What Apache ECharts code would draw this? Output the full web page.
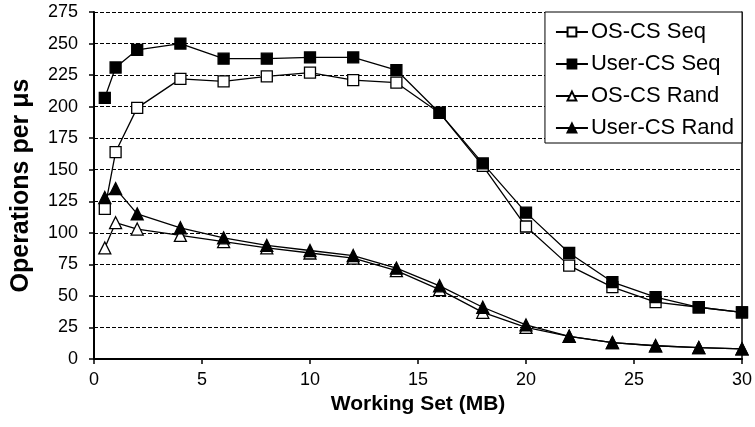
<!DOCTYPE html>
<html>
<head>
<meta charset="utf-8">
<script src="https://cdn.jsdelivr.net/npm/echarts@6/dist/echarts.min.js"></script>
<style>
    html, body { margin: 0; padding: 0; background: #fff; }
    #chart { width: 755px; height: 427px; }
</style>
</head>
<body>
<div id="chart"></div>
<script>
// working set sizes (MB)
const workingSet = [0.5, 1, 2, 4, 6, 8, 10, 12, 14, 16, 18, 20, 22, 24, 26, 28, 30];

const osCsSeq   = [119, 164, 199, 222, 220, 224, 227, 221, 219, 195, 153, 105, 74, 57, 45, 41, 37];
const userCsSeq = [207, 231, 245, 250, 238, 238, 239, 239, 229, 195, 155, 116, 84, 61, 49, 41, 37];
const osCsRand  = [88, 108, 103, 98, 93, 88, 84, 80, 70, 55, 37, 25, 18, 13, 10.5, 9, 8];
const userCsRand = [128, 135, 115, 104, 96, 90, 86, 82, 72, 58, 41, 27, 18, 13, 10.5, 9, 8];

const seriesNames = ['OS-CS Seq', 'User-CS Seq', 'OS-CS Rand', 'User-CS Rand'];
const yTicks = [0, 25, 50, 75, 100, 125, 150, 175, 200, 225, 250, 275];
const xTicks = [0, 5, 10, 15, 20, 25, 30];

const font = 'Liberation Sans, Arial, sans-serif';

function toPairs(values) {
    return workingSet.map((x, i) => [x, values[i]]);
}

function makeSeries(name, values, symbol, filled, size) {
    return {
        name: name,
        type: 'line',
        data: toPairs(values),
        symbol: symbol,
        symbolSize: size,
        showAllSymbol: true,
        lineStyle: { color: '#000', width: 1.3 },
        itemStyle: {
            color: filled ? '#000' : '#fff',
            borderColor: '#000',
            borderWidth: 1.3
        },
        emphasis: { disabled: true },
        z: 3
    };
}

const myChart = echarts.init(document.getElementById('chart'), null, { renderer: 'canvas' });
myChart.setOption({
    animation: false,
    backgroundColor: '#fff',
    grid: {
        left: 94,
        right: 13,
        top: 12,
        bottom: 68
    },
    legend: {
        orient: 'vertical',
        right: 13,
        top: 12,
        data: seriesNames,
        backgroundColor: '#fff',
        borderColor: '#000',
        borderWidth: 1,
        padding: [9, 8, 4, 10],
        itemGap: 10,
        itemWidth: 32,
        itemHeight: 11,
        textStyle: { fontFamily: font, fontSize: 22, color: '#000', padding: [0, 0, 0, -2] }
    },
    xAxis: {
        type: 'value',
        min: xTicks[0],
        max: xTicks[xTicks.length - 1],
        interval: 5,
        name: 'Working Set (MB)',
        nameLocation: 'middle',
        nameGap: 34,
        nameTextStyle: { fontFamily: font, fontSize: 21, fontWeight: 'bold', color: '#000' },
        axisLine: { lineStyle: { color: '#000', width: 2 } },
        axisTick: { show: true, inside: false, length: 5, lineStyle: { color: '#000', width: 1.5 } },
        axisLabel: { fontFamily: font, fontSize: 18, color: '#000', margin: 12 },
        splitLine: { show: false }
    },
    yAxis: [{
        type: 'value',
        min: yTicks[0],
        max: yTicks[yTicks.length - 1],
        interval: 25,
        name: 'Operations per μs',
        nameLocation: 'middle',
        nameGap: 60,
        nameTextStyle: { fontFamily: font, fontSize: 25, fontWeight: 'bold', color: '#000' },
        axisLine: { show: true, lineStyle: { color: '#000', width: 2 } },
        axisTick: { show: true, inside: false, length: 5, lineStyle: { color: '#000', width: 1.5 } },
        axisLabel: { fontFamily: font, fontSize: 18, color: '#000', margin: 16 },
        splitLine: { show: true, lineStyle: { color: '#000', width: 1, type: [4, 2] } }
    }, {
        type: 'value',
        position: 'right',
        min: yTicks[0],
        max: yTicks[yTicks.length - 1],
        interval: 25,
        axisLine: { show: true, lineStyle: { color: '#000', width: 1.5 } },
        axisTick: { show: false },
        axisLabel: { show: false },
        splitLine: { show: false }
    }],
    series: [
        makeSeries(seriesNames[0], osCsSeq, 'rect', false, 11),
        makeSeries(seriesNames[1], userCsSeq, 'rect', true, 11),
        makeSeries(seriesNames[2], osCsRand, 'triangle', false, 12),
        makeSeries(seriesNames[3], userCsRand, 'triangle', true, 12)
    ]
});
</script>
</body>
</html>
